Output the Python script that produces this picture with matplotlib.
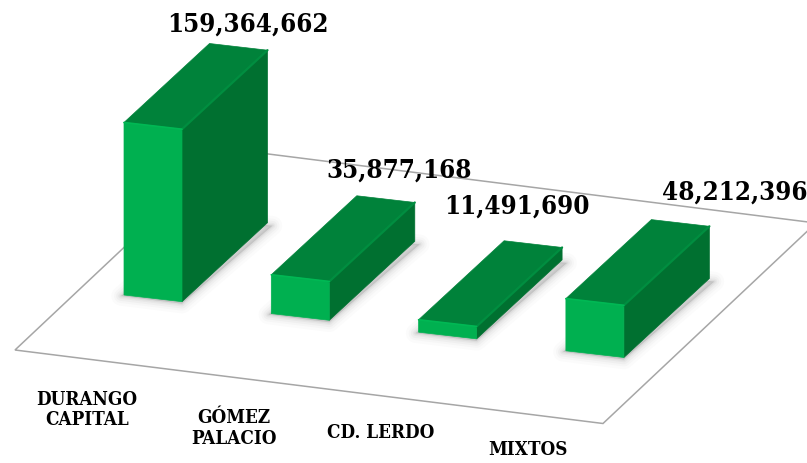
# -*- coding: utf-8 -*-
import matplotlib
matplotlib.use("Agg")
import matplotlib.pyplot as plt
from matplotlib.patches import Polygon

categories = ["DURANGO\nCAPITAL", "GÓMEZ\nPALACIO", "CD. LERDO", "MIXTOS"]
values = [159364662, 35877168, 11491690, 48212396]
value_labels = ["159,364,662", "35,877,168", "11,491,690", "48,212,396"]

# pixel layout of the 3D scene
px_per_unit = 172.5 / 159364662
base_x, base_y = 124, 295
step_x, step_y = 147.3, 18.6
width_x, width_y = 58, 6.7
depth_x, depth_y = 85.5, -79
floor = [(15, 350), (603, 423.5), (816, 223), (228.6, 149)]
label_pos = [(248, 24), (399, 170), (517, 206), (735, 192)]
cat_pos = [(87, 410), (234, 428.5), (381, 433), (528, 450)]

FRONT = "#00B050"
TOP = "#00823A"
SIDE = "#007030"
EDGE = "#008E40"

fig = plt.figure(figsize=(8.07, 4.63), dpi=100)
ax = fig.add_axes([0, 0, 1, 1])
ax.set_xlim(0, 807)
ax.set_ylim(463, 0)
ax.axis("off")

ax.add_patch(Polygon(floor, closed=True, fc="white", ec="#A6A6A6", lw=1.1, zorder=1))


def draw_bar(i, value):
    h = value * px_per_unit
    x0 = base_x + i * step_x
    y0 = base_y + i * step_y
    a = (x0, y0)
    b = (x0 + width_x, y0 + width_y)
    c = (b[0] + depth_x, b[1] + depth_y)
    d = (x0 + depth_x, y0 + depth_y)

    def up(p):
        return (p[0], p[1] - h)

    # soft shadow round the footprint
    foot = [(a[0] - 3, a[1] + 1), (b[0], b[1] + 2), (c[0] + 5, c[1] + 3), (d[0], d[1] + 3)]
    for lw, alpha in [(14, 0.03), (10, 0.04), (7, 0.05), (4, 0.07), (2, 0.09)]:
        ax.add_patch(Polygon(foot, closed=True, fc="#808080", ec="#808080", lw=lw,
                             alpha=alpha, joinstyle="round", zorder=2))

    z = 3 + i
    ax.add_patch(Polygon([b, c, up(c), up(b)], closed=True, fc=SIDE, ec=SIDE, lw=0.5, zorder=z))
    ax.add_patch(Polygon([up(a), up(b), up(c), up(d)], closed=True, fc=TOP, ec=TOP, lw=0.5, zorder=z))
    ax.add_patch(Polygon([a, b, up(b), up(a)], closed=True, fc=FRONT, ec=FRONT, lw=0.5, zorder=z))
    # bevel along the edges
    ax.plot(*zip(up(b), up(c)), color=EDGE, lw=1.6, solid_capstyle="round", zorder=z)
    ax.plot(*zip(up(a), up(b)), color="#00B854", lw=1.2, solid_capstyle="round", zorder=z)


for i, value in enumerate(values):
    draw_bar(i, value)

font = dict(family="DejaVu Serif", stretch="condensed", weight="bold", color="black",
            ha="center", va="center", zorder=10)
for (x, y), label in zip(label_pos, value_labels):
    ax.text(x, y, label, fontsize=18.5, **font)
for (x, y), cat in zip(cat_pos, categories):
    ax.text(x, y, cat, fontsize=13.5, linespacing=1.15, **font)

fig.savefig("out.png", dpi=100)
